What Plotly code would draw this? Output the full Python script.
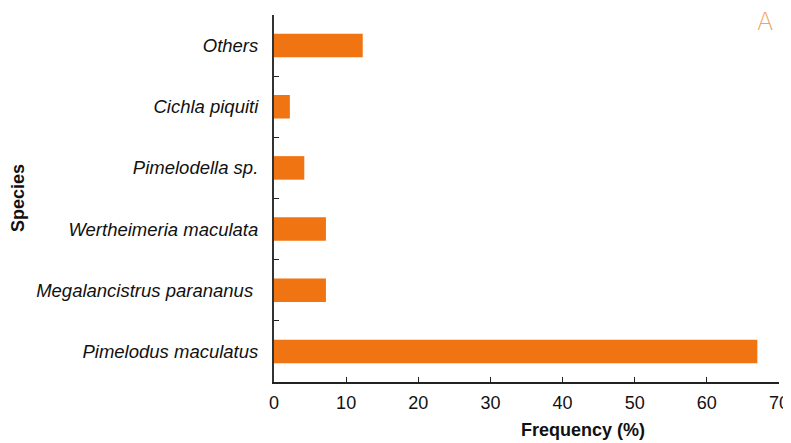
import plotly.graph_objects as go

species = ["Pimelodus maculatus", "Megalancistrus parananus\u00a0", "Wertheimeria maculata",
           "Pimelodella sp.", "Cichla piquiti", "Others"]
frequency = [67.0, 7.2, 7.2, 4.2, 2.2, 12.3]
x_ticks = [0, 10, 20, 30, 40, 50, 60, 70]

bar_color = "#F07512"

# page offset of the figure div (default body margin)
OFF = 8
FW, FH = 791 - OFF, 443 - OFF
L, R, T, B = 274 - OFF, 779 - OFF, 15 - OFF, 382 - OFF
W, H = R - L, B - T

fig = go.Figure(go.Bar(
    y=species, x=frequency, orientation="h",
    marker=dict(color=bar_color, line=dict(width=0)),
))

fig.update_layout(
    width=FW, height=FH,
    margin=dict(l=L, r=FW - R, t=T, b=FH - B, autoexpand=False),
    paper_bgcolor="white", plot_bgcolor="white",
    bargap=0.615,
    showlegend=False,
    font=dict(family="Liberation Sans, Arial, sans-serif", size=18, color="#111"),
    xaxis=dict(
        range=[0, 70], tickvals=x_ticks, ticks="inside", ticklen=5, tickwidth=1.3,
        tickcolor="#222", showline=True, linecolor="#222", linewidth=1.5,
        showgrid=False, zeroline=False, tickfont=dict(size=18), automargin=False,
        ticklabelstandoff=4, ticklabeloverflow="allow",
    ),
    yaxis=dict(
        ticks="inside", ticklen=5, tickwidth=1.3, tickcolor="#222",
        tickson="boundaries", showline=True, linecolor="#333", linewidth=2,
        showgrid=False, zeroline=False, ticklabelstandoff=10, automargin=False,
        tickfont=dict(size=18.5, style="italic"),
    ),
    annotations=[
        dict(text="<b>Frequency (%)</b>", xref="paper", yref="paper", x=(583 - OFF - L) / W,
             y=-(430 - OFF - B) / H, xanchor="center", yanchor="middle", showarrow=False,
             font=dict(size=18)),
        dict(text="<b>Species</b>", xref="paper", yref="paper", x=-(L - (18 - OFF)) / W,
             y=(B - (198 - OFF)) / H, xanchor="center", yanchor="middle", textangle=-90,
             showarrow=False, font=dict(size=18)),
        dict(text="A", xref="paper", yref="paper", x=(765 - OFF - L) / W, y=(B - (22 - OFF)) / H,
             xanchor="center", yanchor="middle", showarrow=False,
             font=dict(size=24, color="#F2A261", family="DejaVu Sans, sans-serif", weight=200)),
    ],
)

fig.write_html("out.html")
